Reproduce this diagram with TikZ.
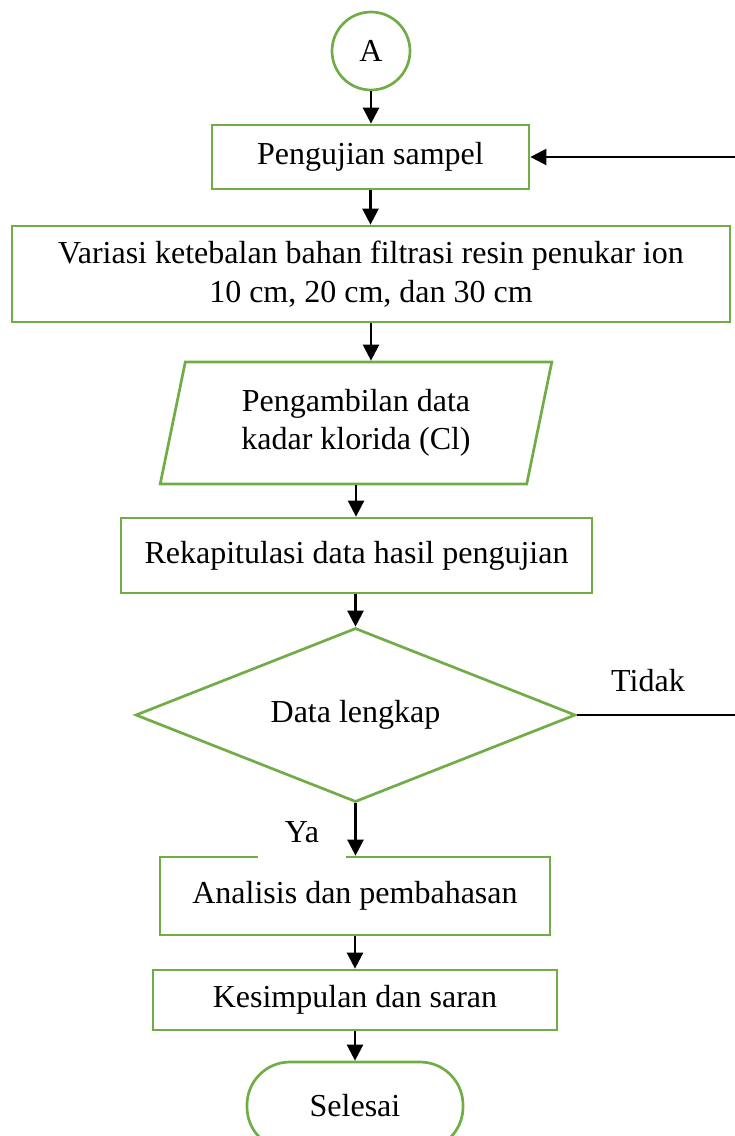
\documentclass[tikz,border=0pt]{standalone}
\usepackage{fontspec}
\setmainfont{Liberation Serif}
\usetikzlibrary{arrows.meta,shapes.geometric,positioning}
\definecolor{fgreen}{RGB}{112,173,71}
\tikzset{
  box/.style={draw=fgreen,line width=2.7pt,rectangle,inner sep=0pt,align=center},
  arr/.style={black,line width=2.4pt,-{Triangle[length=16pt,width=16pt]}},
  fb/.style={black,line width=1.5pt},
}
\begin{document}
\begin{tikzpicture}[x=1pt,y=-1pt,font=\fontsize{32}{38.5}\selectfont]
\useasboundingbox (0,0) rectangle (735,1136);
\node[box,circle,minimum size=78pt] (A) at (371,51) {A};
\node[box,minimum width=317pt,minimum height=64pt] (b1) at (370.5,157) {Pengujian sampel};
\node[box,minimum width=718pt,minimum height=96pt] (b2) at (371,274) {Variasi ketebalan bahan filtrasi resin penukar ion\\10 cm, 20 cm, dan 30 cm};
\node[box,trapezium,trapezium left angle=76,trapezium right angle=104,trapezium stretches=true,minimum width=392pt,minimum height=122pt] (p) at (356,423) {Pengambilan data\\kadar klorida (Cl)};
\node[box,minimum width=471pt,minimum height=75pt] (b3) at (356.5,555.5) {Rekapitulasi data hasil pengujian};
\node[box,diamond,aspect=2.53,minimum width=440pt,minimum height=174pt] (d) at (355.5,715) {\raisebox{6pt}{Data lengkap}};
\node[box,minimum width=390pt,minimum height=78pt] (b4) at (355,896) {Analisis dan pembahasan};
\node[fill=white,minimum width=88pt,minimum height=54pt,inner sep=0pt] (ya) at (302,832) {Ya};
\node[box,minimum width=404pt,minimum height=60pt] (b5) at (355,1000) {Kesimpulan dan saran};
\node[box,rounded corners=43pt,minimum width=216pt,minimum height=88pt] (end) at (355,1106) {Selesai};
\node (tidak) at (648,681) {Tidak};
\coordinate (c1) at (740,715);
\coordinate (c2) at (740,157);
\draw[arr] (A.south) -- (b1.north -| A.south);
\draw[arr] (b1.south) -- (b2.north -| b1.south);
\draw[arr] (b2.south) -- (b2.south |- p.north);
\draw[arr] (p.south) -- (b3.north -| p.south);
\draw[arr] (b3.south -| d.north) -- (d.north);
\draw[arr] (d.south) -- (b4.north -| d.south);
\draw[arr] (b4.south) -- (b5.north);
\draw[arr] (b5.south) -- (end.north);
\draw[fb] (d.east) -- (c1) -- (c2);
\draw[arr] (c2) -- (b1.east);
\end{tikzpicture}
\end{document}
